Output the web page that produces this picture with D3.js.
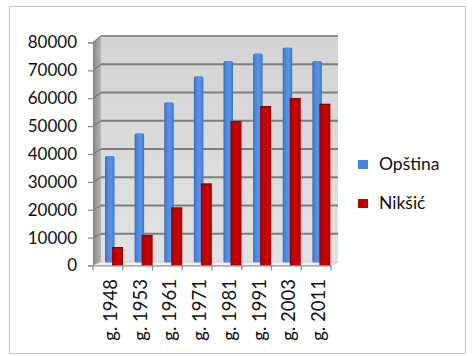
<!DOCTYPE html>
<html>
<head>
<meta charset="utf-8">
<script src="https://cdn.jsdelivr.net/npm/d3@7"></script>
<style>
  html, body { margin: 0; padding: 0; background: #fff; }
  svg { display: block; font-family: Lato, "Open Sans", sans-serif; }
</style>
</head>
<body>
<svg id="chart" width="472" height="356"></svg>
<script>
// Population by census year
const years = ["g. 1948", "g. 1953", "g. 1961", "g. 1971", "g. 1981", "g. 1991", "g. 2003", "g. 2011"];
const opstina = [38200, 46400, 57500, 66800, 72300, 75000, 77100, 72300];
const niksic = [6600, 10900, 20800, 29400, 51700, 57200, 60000, 58000];
const seriesNames = ["Opština", "Nikšić"];
const seriesColors = ["#4a84d8", "#c00000"];
const yTicks = [0, 10000, 20000, 30000, 40000, 50000, 60000, 70000, 80000];

const svg = d3.select("#chart");
const defs = svg.append("defs");

// Outer frame
svg.append("rect").attr("x", 9.5).attr("y", 6.5).attr("width", 456).attr("height", 347)
  .attr("fill", "#fff").attr("stroke", "#c6c6c6").attr("stroke-width", 1);

// Front plane (axis) and back wall geometry
const front = { left: 93, right: 331, bottom: 265.5, top: 42.5 };
const back = { left: 101, right: 338, bottom: 262, top: 36 };

const yFront = d3.scaleLinear().domain([0, 80000]).range([front.bottom, front.top]);
const yBack = d3.scaleLinear().domain([0, 80000]).range([back.bottom, back.top]);
const xFront = d3.scaleBand().domain(years).range([front.left, front.right]);
const xBack = d3.scaleBand().domain(years).range([back.left, back.right]);

// Gradients
function hGrad(id, stops) {
  const g = defs.append("linearGradient").attr("id", id).attr("x1", 0).attr("x2", 1).attr("y1", 0).attr("y2", 0);
  stops.forEach(([o, c]) => g.append("stop").attr("offset", o).attr("stop-color", c));
}
function vGrad(id, stops) {
  const g = defs.append("linearGradient").attr("id", id).attr("x1", 0).attr("x2", 0).attr("y1", 0).attr("y2", 1);
  stops.forEach(([o, c]) => g.append("stop").attr("offset", o).attr("stop-color", c));
}
hGrad("blueBar", [[0, "#3566b0"], [0.18, "#4a84d8"], [0.6, "#5a93e4"], [0.85, "#4a84d8"], [1, "#3a6fbf"]]);
hGrad("redBar", [[0, "#8e0000"], [0.2, "#b80000"], [0.6, "#c80606"], [1, "#a80000"]]);
hGrad("sideWall", [[0, "#8a8a8a"], [1, "#b4b4b4"]]);
vGrad("backWall", [[0, "#d4d4d4"], [1, "#e2e2e2"]]);

// Back wall
svg.append("rect").attr("x", back.left).attr("y", back.top)
  .attr("width", back.right - back.left).attr("height", back.bottom - back.top)
  .attr("fill", "url(#backWall)");

// Side wall
svg.append("path")
  .attr("d", `M${front.left},${front.bottom}L${front.left},${front.top}L${back.left},${back.top}L${back.left},${back.bottom}Z`)
  .attr("fill", "url(#sideWall)");

// Floor
svg.append("path")
  .attr("d", `M${front.left},${front.bottom}L${back.left},${back.bottom}L${back.right},${back.bottom}L${front.right},${front.bottom}Z`)
  .attr("fill", "#f4f4f4").attr("stroke", "#c8c8c8").attr("stroke-width", 0.8);

// Gridlines on the back wall and side wall
const grid = svg.append("g");
yTicks.filter(d => d > 0).forEach(d => {
  grid.append("line")
    .attr("x1", back.left).attr("x2", back.right)
    .attr("y1", yBack(d)).attr("y2", yBack(d))
    .attr("stroke", d === 80000 ? "#8e8e8e" : "#7e7e7e").attr("stroke-width", 1.8);
  grid.append("line")
    .attr("x1", front.left).attr("x2", back.left)
    .attr("y1", yFront(d)).attr("y2", yBack(d))
    .attr("stroke", "#707070").attr("stroke-width", 1.2).attr("opacity", 0.8);
});

// Bars: Opština behind, Nikšić in front
const bars = svg.append("g");
bars.selectAll("rect.opstina").data(years).join("rect")
  .attr("class", "opstina")
  .attr("x", d => xBack(d) + 4)
  .attr("width", 9.5)
  .attr("y", (d, i) => yFront(opstina[i]) - 3)
  .attr("height", (d, i) => yFront(0) - yFront(opstina[i]))
  .attr("rx", 2).attr("ry", 1.5)
  .attr("fill", "url(#blueBar)");

bars.selectAll("rect.niksic").data(years).join("rect")
  .attr("class", "niksic")
  .attr("x", d => xBack(d) + 11)
  .attr("width", 11)
  .attr("y", (d, i) => yFront(niksic[i]))
  .attr("height", (d, i) => yFront(0) - yFront(niksic[i]))
  .attr("fill", "url(#redBar)");
bars.selectAll("line.niksicTop").data(years).join("line")
  .attr("class", "niksicTop")
  .attr("x1", d => xBack(d) + 11).attr("x2", d => xBack(d) + 22)
  .attr("y1", (d, i) => yFront(niksic[i]) + 0.5).attr("y2", (d, i) => yFront(niksic[i]) + 0.5)
  .attr("stroke", "#7a0000").attr("stroke-width", 1);

// Y axis
const yAxis = d3.axisLeft(yFront).tickValues(yTicks).tickSize(5).tickPadding(11).tickFormat(d3.format("d"));
const gy = svg.append("g").attr("transform", `translate(${front.left},0)`).call(yAxis);
gy.select(".domain").attr("stroke", "#8a8a8a").attr("stroke-width", 1.2);
gy.selectAll(".tick line").attr("stroke", "#8a8a8a").attr("stroke-width", 1.2);
gy.selectAll(".tick text").attr("font-size", 17).attr("fill", "#111")
  .attr("font-family", "Lato, 'Open Sans', sans-serif");

// X axis along the front edge of the floor
const xAxis = d3.axisBottom(xFront).tickSize(0).tickFormat("");
const gx = svg.append("g").attr("transform", `translate(0,${front.bottom})`).call(xAxis);
gx.select(".domain").attr("stroke", "#8a8a8a").attr("stroke-width", 1.2);
// Category separators
const sep = years.map(d => xFront(d)).concat([front.right]);
gx.selectAll("line.sep").data(sep).join("line").attr("class", "sep")
  .attr("x1", d => d).attr("x2", d => d).attr("y1", 0).attr("y2", 5)
  .attr("stroke", "#8a8a8a").attr("stroke-width", 1.2);

// Rotated category labels
svg.append("g").selectAll("text").data(years).join("text")
  .attr("transform", d => `translate(${xFront(d) + xFront.bandwidth() / 2 + 2},279) rotate(-90)`)
  .attr("text-anchor", "end")
  .attr("dominant-baseline", "central")
  .attr("font-size", 18.5).attr("fill", "#111")
  .text(d => d);

// Legend
const legend = svg.append("g");
seriesNames.forEach((name, i) => {
  const ly = 160 + i * 39;
  legend.append("rect").attr("x", 358).attr("y", ly).attr("width", 10).attr("height", 9)
    .attr("fill", seriesColors[i]);
  legend.append("text").attr("x", 379).attr("y", ly + 10).attr("font-size", 17.5)
    .attr("fill", "#111").text(name);
});
</script>
</body>
</html>
